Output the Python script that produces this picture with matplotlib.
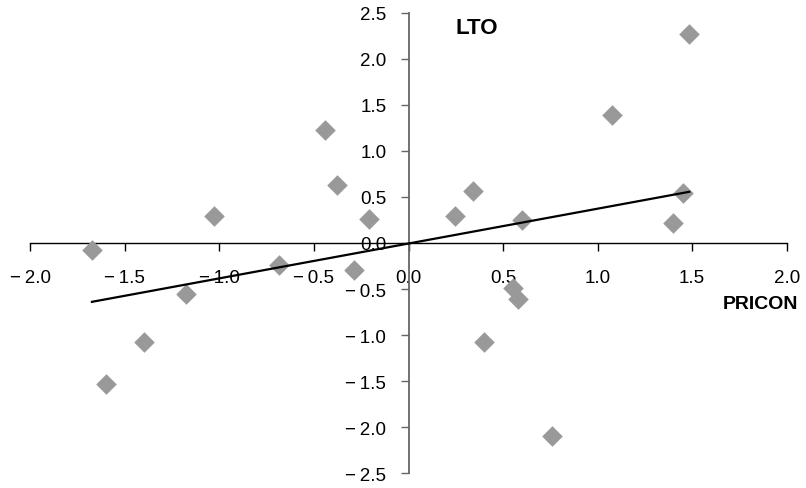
import numpy as np
import matplotlib
matplotlib.use("Agg")
import matplotlib.pyplot as plt

# standardised scores
pricon = [-1.674, -1.598, -1.40, -1.177, -1.03, -0.685, -0.443, -0.378, -0.289, -0.21,
          0.245, 0.339, 0.40, 0.553, 0.58, 0.60, 0.76, 1.076, 1.40, 1.45, 1.485]
lto = [-0.076, -1.53, -1.076, -0.558, 0.293, -0.242, 1.225, 0.627, -0.297, 0.258,
       0.293, 0.565, -1.076, -0.485, -0.61, 0.25, -2.10, 1.39, 0.214, 0.548, 2.27]
x_ticks = [-2.0, -1.5, -1.0, -0.5, 0.0, 0.5, 1.0, 1.5, 2.0]
y_ticks = [-2.5, -2.0, -1.5, -1.0, -0.5, 0.0, 0.5, 1.0, 1.5, 2.0, 2.5]

plt.rcParams['font.family'] = ['Liberation Sans', 'DejaVu Sans']

W, H = 806, 489
fig = plt.figure(figsize=(W / 100, H / 100), dpi=100)
ax = fig.add_axes([30.3 / W, (H - 474.3) / H, 756.4 / W, 460.6 / H])
ax.patch.set_alpha(0)

ax.scatter(pricon, lto, marker='D', s=110, color='#999999', linewidths=0, zorder=3)

# linear trend line
slope, icpt = np.polyfit(pricon, lto, 1)
xs = np.array([min(pricon), max(pricon)])
ax.plot(xs, slope * xs + icpt, color='black', lw=1.6, zorder=4)

ax.set_xlim(-2, 2)
ax.set_ylim(-2.5, 2.5)
for s in ['top', 'right']:
    ax.spines[s].set_visible(False)
ax.spines['left'].set_position(('data', 0))
ax.spines['bottom'].set_position(('data', 0))
ax.spines['left'].set_color('#666666')
ax.spines['left'].set_linewidth(1.3)
ax.spines['bottom'].set_color('black')
ax.spines['bottom'].set_linewidth(1.0)

# minus sign followed by a thin space, as in the original
fmt = lambda v: f"{v:.1f}".replace('-', '\u2212\u2009')
ax.set_xticks(x_ticks)
ax.set_xticklabels([fmt(v) for v in x_ticks])
ax.set_yticks(y_ticks)
ax.set_yticklabels([fmt(v) for v in y_ticks])
ax.tick_params(axis='x', direction='out', length=6, width=1, color='black',
               labelsize=13.5, pad=12.5)
ax.tick_params(axis='y', direction='out', length=6, width=1, color='#666666',
               labelsize=13.5, pad=10, labelcolor='black')

fig.text(476.7 / W, 1 - 34.3 / H, 'LTO', ha='center', va='baseline',
         fontsize=16, fontweight='bold')
fig.text(760.7 / W, 1 - 309.3 / H, 'PRICON', ha='center', va='baseline',
         fontsize=14, fontweight='bold')

fig.savefig('out.png', dpi=100)
